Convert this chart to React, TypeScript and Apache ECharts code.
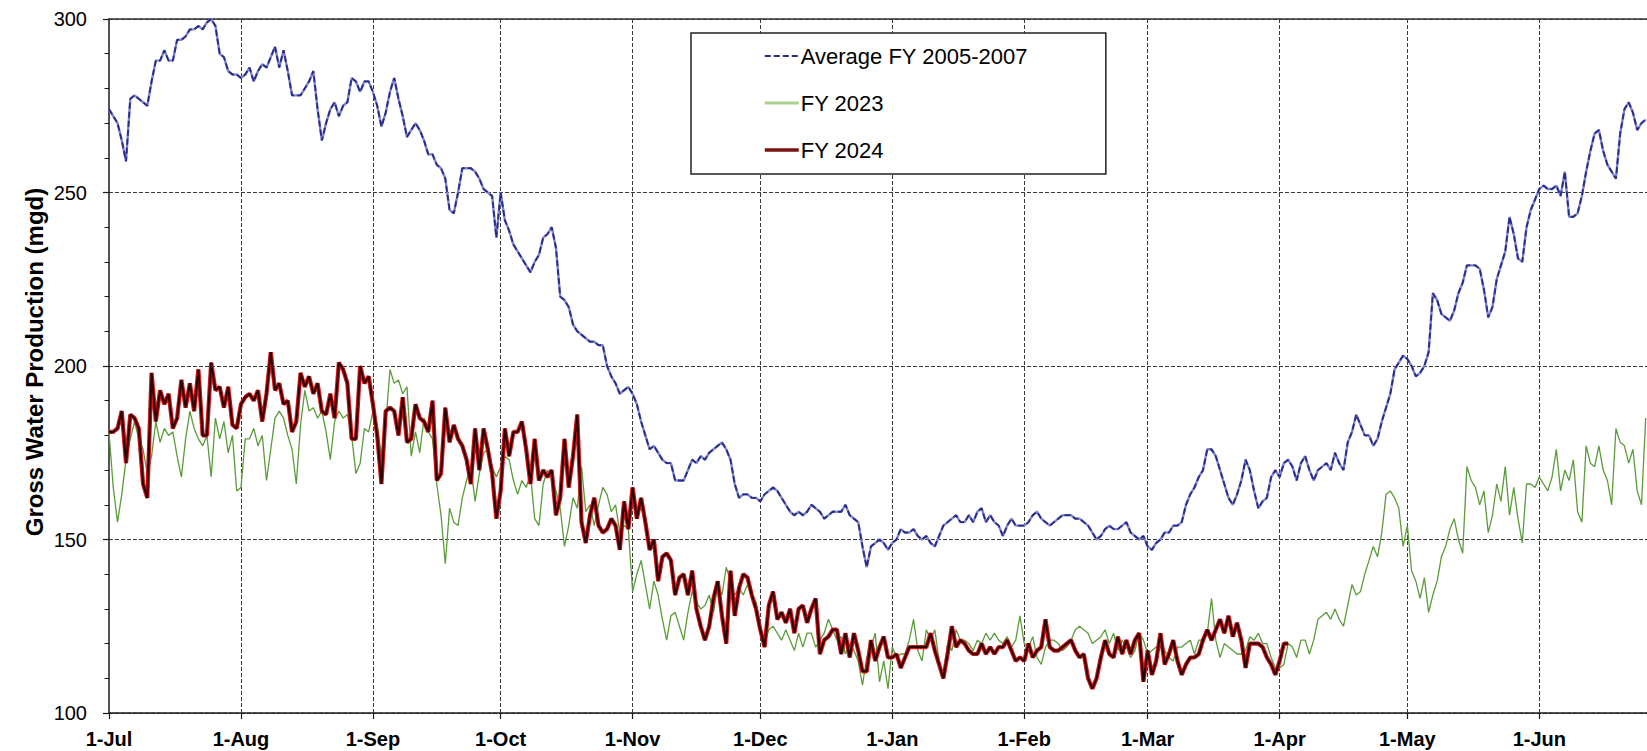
import React, { useEffect, useRef } from "react";
import * as echarts from "echarts";

// Day index 0 = 1-Jul (fiscal year start)
const MONTH_DAYS = [0, 31, 62, 92, 123, 153, 184, 215, 244, 275, 305, 336];
const MONTH_LABELS = ["1-Jul", "1-Aug", "1-Sep", "1-Oct", "1-Nov", "1-Dec", "1-Jan", "1-Feb", "1-Mar", "1-Apr", "1-May", "1-Jun"];

const SERIES_NAMES = ["Average FY 2005-2007", "FY 2023", "FY 2024"];

const AVG_2005_2007 = [
  274,272,270,265,259,277,278,277,276,275,
  282,288,288,291,288,288,294,294,295,297,
  297,298,297,299,300,298,290,289,285,284,
  284,283,284,286,282,285,287,286,289,292,
  286,291,285,278,278,278,280,282,285,274,
  265,270,274,276,272,275,276,283,282,279,
  282,282,279,275,269,273,279,283,277,272,
  266,268,270,268,265,261,261,258,257,254,
  245,244,250,257,257,257,256,254,251,250,
  249,237,250,242,239,235,233,231,229,227,
  230,232,237,238,240,234,220,219,217,212,
  210,209,208,207,207,206,206,200,197,195,
  192,193,194,192,189,184,180,176,177,175,
  173,172,172,167,167,167,170,173,172,174,
  173,175,176,177,178,176,173,166,162,163,
  163,162,162,161,163,164,165,164,162,160,
  158,157,158,157,158,160,159,158,156,157,
  158,158,158,160,157,156,155,148,142,148,
  149,150,149,147,149,150,153,152,152,153,
  151,150,151,149,148,151,154,155,156,157,
  155,155,157,155,158,159,155,157,155,154,
  151,154,156,154,154,154,155,157,158,156,
  155,154,155,156,157,157,157,156,156,155,
  154,152,150,151,153,154,153,153,154,155,
  152,151,150,151,148,147,149,150,152,152,
  154,154,155,160,163,165,168,170,176,176,
  174,170,166,162,160,163,167,173,170,164,
  159,161,162,168,170,168,172,173,171,167,
  172,174,170,167,170,171,172,170,175,172,
  170,178,181,186,183,180,180,177,179,184,
  188,192,199,201,203,202,200,197,198,200,
  204,221,219,215,214,213,216,221,224,229,
  229,229,228,222,214,217,225,229,233,243,
  238,231,230,240,245,248,251,252,251,251,
  252,249,256,243,243,244,249,256,262,267,
  268,262,258,256,254,267,274,276,273,268,
  270,271,
];

const FY_2023 = [
  181,165,155,163,173,179,184,179,176,169,
  174,184,178,182,180,181,174,168,179,187,
  182,179,177,180,168,185,179,184,175,180,
  164,165,179,179,182,177,180,167,176,185,
  187,185,180,176,166,183,193,187,188,185,
  187,181,173,184,187,185,186,180,169,172,
  182,181,187,183,174,183,199,195,196,192,
  194,174,181,175,185,181,179,166,157,143,
  159,155,154,162,167,171,161,169,175,176,
  171,168,171,174,173,167,163,167,165,169,
  156,154,166,170,168,164,159,148,154,162,
  159,171,158,160,154,160,165,163,158,160,
  152,154,153,135,140,144,137,130,138,134,
  127,121,128,129,125,121,129,135,132,130,
  131,134,129,137,134,142,138,134,136,134,
  137,134,132,125,120,124,125,123,121,124,
  121,118,123,119,123,123,119,121,123,127,
  124,121,122,117,120,118,115,108,116,119,
  123,109,115,107,119,116,117,117,121,127,
  118,115,124,121,124,115,111,120,118,124,
  121,121,120,118,121,120,123,121,123,121,
  120,122,119,121,128,120,119,122,116,114,
  119,121,121,120,118,119,121,124,125,124,
  123,120,121,122,124,120,123,118,121,119,
  116,118,123,121,117,118,119,120,118,116,
  115,119,119,120,121,117,121,121,123,133,
  121,116,120,119,118,117,117,118,122,121,
  123,120,120,116,113,113,114,120,119,116,
  121,121,117,121,127,128,129,127,130,127,
  125,131,137,134,135,140,144,148,145,152,
  163,164,162,159,148,154,141,138,133,139,
  129,134,138,145,148,153,156,150,146,171,
  167,165,160,164,152,157,166,161,171,157,
  165,156,149,166,166,165,168,166,164,168,
  176,164,170,167,173,158,155,177,172,171,
  177,170,167,160,182,178,177,172,176,164,
  160,185,
];

const FY_2024 = [
  181,181,182,187,172,186,185,182,166,162,
  198,184,193,189,192,182,185,196,188,195,
  187,199,180,180,201,193,194,188,194,183,
  182,189,191,192,190,193,184,192,204,193,
  195,189,190,181,184,198,194,197,192,195,
  187,186,192,185,201,199,195,179,179,200,
  195,197,189,180,166,187,188,187,180,191,
  178,179,189,185,184,181,190,167,169,188,
  178,183,179,177,173,166,182,170,182,176,
  169,156,164,182,174,181,181,184,176,166,
  179,167,170,168,170,157,162,179,165,174,
  186,155,149,157,162,154,152,153,156,154,
  147,161,153,165,156,162,155,147,150,138,
  145,146,144,134,139,140,134,141,130,125,
  121,125,133,138,128,120,141,128,136,140,
  139,134,130,124,119,131,135,127,129,126,
  130,123,130,131,126,130,133,117,121,122,
  124,124,117,123,116,123,118,112,112,121,
  115,119,122,116,116,117,113,116,119,119,
  119,119,119,123,118,114,110,117,125,119,
  121,120,118,117,117,120,117,119,117,119,
  119,121,118,115,116,115,120,116,118,119,
  127,119,118,118,119,120,121,118,116,117,
  110,107,110,116,121,117,116,122,117,121,
  117,121,123,109,118,111,115,123,114,117,
  121,115,111,114,116,116,117,121,124,121,
  124,127,123,128,122,126,121,113,120,120,
  120,119,116,114,111,115,120,120,
];

const FONT = '"Liberation Sans", Arial, Helvetica, sans-serif';

const toPoints = (arr: number[]) => arr.map((v, i) => [i, v]);

export default function App() {
  const ref = useRef<HTMLDivElement>(null);

  useEffect(() => {
    if (!ref.current) return;
    const chart = echarts.init(ref.current, null, { renderer: "svg" });
    const axisColor = "#1a1a1a";
    const gridLine = { type: [4, 2] as any, color: "#3a3a3a", width: 1 };
    const hiddenSymbol = { color: "rgba(0,0,0,0)", borderColor: "rgba(0,0,0,0)", borderWidth: 0, opacity: 0 };

    chart.setOption({
      animation: false,
      backgroundColor: "#fff",
      grid: { left: 109, right: 0, top: 19, bottom: 38, containLabel: false },
      xAxis: [
        {
          type: "value",
          min: 0,
          max: 361.3,
          position: "bottom",
          axisLine: { show: true, onZero: false, lineStyle: { color: axisColor, width: 1.5 } },
          axisTick: { show: true, customValues: MONTH_DAYS, length: 6, lineStyle: { color: axisColor, width: 1.2 } },
          axisLabel: {
            customValues: MONTH_DAYS,
            formatter: (v: number) => {
              const i = MONTH_DAYS.indexOf(Math.round(v));
              return i >= 0 ? MONTH_LABELS[i] : "";
            },
            fontSize: 20,
            fontWeight: "bold",
            fontFamily: FONT,
            color: "#000",
            margin: 16,
          },
          splitLine: { show: false },
        },
        {
          type: "value",
          min: 0,
          max: 361.3,
          position: "top",
          axisLine: { show: true, onZero: false, lineStyle: { color: "#333", width: 1.5 } },
          axisTick: { show: false },
          axisLabel: { show: false },
          splitLine: { show: false },
        },
      ],
      yAxis: {
        type: "value",
        min: 100,
        max: 300,
        interval: 50,
        axisLine: { show: true, lineStyle: { color: axisColor, width: 1.5 } },
        axisTick: { show: true, length: 6, lineStyle: { color: axisColor, width: 1.2 } },
        minorTick: { show: true, splitNumber: 5, length: 4.5, lineStyle: { color: axisColor, width: 1 } },
        axisLabel: { fontSize: 20, fontFamily: FONT, color: "#000", margin: 22 },
        splitLine: { show: true, lineStyle: gridLine },
      },
      legend: {
        orient: "vertical",
        left: 691,
        top: 33,
        padding: [11, 78, 12, 72],
        itemGap: 23,
        itemWidth: 34,
        itemHeight: 14,
        borderColor: "#222",
        borderWidth: 1.5,
        backgroundColor: "#fff",
        selectedMode: false,
        itemStyle: hiddenSymbol,
        textStyle: { fontSize: 22, fontFamily: FONT, color: "#000", lineHeight: 24, padding: [0, 0, 0, -3] },
        data: [
          { name: SERIES_NAMES[0], itemStyle: hiddenSymbol },
          { name: SERIES_NAMES[1], itemStyle: hiddenSymbol, lineStyle: { color: "#a9d08e", width: 3 } },
          { name: SERIES_NAMES[2], itemStyle: hiddenSymbol, lineStyle: { color: "#7a1212", width: 3.5 } },
        ],
      },
      graphic: [
        {
          type: "text",
          x: 34,
          y: 362,
          rotation: Math.PI / 2,
          style: {
            text: "Gross Water Production (mgd)",
            fill: "#000",
            font: `bold 24px ${FONT}`,
            align: "center",
            verticalAlign: "middle",
            textAlign: "center",
            textVerticalAlign: "middle",
          },
        },
      ],
      series: [
        {
          name: "gridlines",
          type: "line",
          data: [],
          z: 1,
          silent: true,
          markLine: {
            silent: true,
            z: 1,
            symbol: ["none", "none"],
            label: { show: false },
            lineStyle: gridLine,
            emphasis: { disabled: true },
            data: MONTH_DAYS.slice(1).map((d) => ({ xAxis: d })),
          },
        },
        {
          name: SERIES_NAMES[0],
          type: "line",
          data: toPoints(AVG_2005_2007),
          symbol: "none",
          z: 4,
          silent: true,
          itemStyle: { color: "#262a8a" },
          lineStyle: { color: "#262a8a", width: 1.8, type: [6, 3] },
        },
        {
          name: SERIES_NAMES[0],
          type: "line",
          data: toPoints(AVG_2005_2007),
          symbol: "none",
          z: 3,
          silent: true,
          itemStyle: { color: "#8085cc" },
          lineStyle: { color: "#8085cc", width: 2.4 },
        },
        {
          name: SERIES_NAMES[1],
          type: "line",
          data: toPoints(FY_2023),
          symbol: "none",
          z: 5,
          silent: true,
          itemStyle: { color: "#5b9b3a" },
          lineStyle: { color: "#5b9b3a", width: 1.3 },
        },
        {
          name: SERIES_NAMES[2],
          type: "line",
          data: toPoints(FY_2024),
          symbol: "none",
          z: 7,
          silent: true,
          itemStyle: { color: "#2b0303" },
          lineStyle: { color: "#2b0303", width: 2 },
        },
        {
          name: SERIES_NAMES[2],
          type: "line",
          data: toPoints(FY_2024),
          symbol: "none",
          z: 6,
          silent: true,
          itemStyle: { color: "#d21414" },
          lineStyle: { color: "#d21414", width: 4.2 },
        },
      ],
    });

    return () => chart.dispose();
  }, []);

  return (
    <div
      ref={ref}
      style={{ position: "fixed", left: 0, top: 0, width: 1647, height: 751, background: "#fff" }}
    />
  );
}
